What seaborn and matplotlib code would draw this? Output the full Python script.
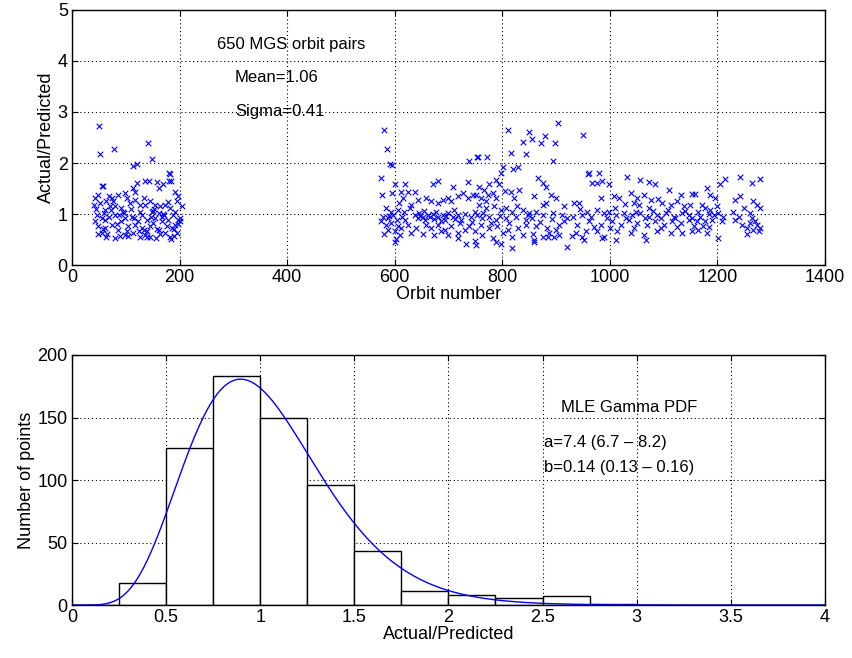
import math
import numpy as np
import pandas as pd
import matplotlib
matplotlib.use("Agg")
import matplotlib.pyplot as plt
import seaborn as sns

# ---------------- data ----------------
# Left cluster of orbit pairs
orbit_left = [51, 52, 78, 142, 148, 113, 121, 180, 181, 56,
              182, 136, 143, 159, 170, 185, 161, 120, 114, 118,
              58, 192, 198, 195, 204, 201, 49, 43, 52, 40,
              68, 74, 64, 86, 99, 102, 108, 117, 127, 136,
              154, 164, 173, 182, 80, 92, 61, 148, 161, 192,
              46, 55, 68, 80, 99, 111, 130, 139, 154, 167,
              179, 188, 49, 61, 74, 86, 105, 117, 130, 145,
              161, 176, 192, 201, 55, 64, 80, 99, 114, 127,
              145, 157, 173, 182, 195, 43, 92, 123, 151, 167,
              77, 133, 145, 72, 96, 124, 158, 186, 45, 110,
              135, 170, 88, 140, 197, 66, 150, 104, 189, 58,
              48, 62, 70, 84, 95, 102, 115, 126, 134, 146,
              152, 163, 172, 178, 190, 198, 60, 90, 140, 185]
ratio_left = [2.72, 2.17, 2.27, 2.39, 2.07, 1.95, 1.99, 1.80, 1.65, 1.55,
              1.78, 1.65, 1.65, 1.63, 1.59, 1.65, 1.51, 1.61, 1.51, 1.44,
              1.56, 1.43, 1.35, 1.25, 1.15, 0.92, 1.37, 1.31, 1.22, 1.18,
              1.35, 1.31, 1.25, 1.37, 1.41, 1.31, 1.22, 1.28, 1.18, 1.18,
              1.18, 1.15, 1.18, 1.12, 1.15, 1.12, 1.08, 1.05, 1.02, 1.05,
              0.99, 0.92, 0.95, 0.99, 0.92, 0.95, 0.99, 0.89, 0.92, 0.95,
              0.89, 0.99, 0.76, 0.73, 0.79, 0.69, 0.76, 0.79, 0.73, 0.76,
              0.69, 0.76, 0.79, 0.86, 0.63, 0.56, 0.53, 0.59, 0.63, 0.56,
              0.56, 0.53, 0.63, 0.56, 0.63, 0.86, 0.86, 0.86, 0.82, 0.86,
              1.25, 1.31, 1.25, 1.08, 1.02, 0.66, 0.70, 0.72, 1.10, 1.10,
              0.60, 1.00, 0.98, 0.66, 0.80, 0.62, 1.06, 0.58, 0.58, 0.70,
              0.62, 0.88, 1.15, 0.80, 1.05, 0.66, 0.92, 1.05, 0.68, 0.95,
              1.10, 0.62, 0.98, 1.24, 0.70, 0.88, 1.02, 0.58, 0.55, 0.52]

# Right cluster of orbit pairs
orbit_right = [580, 585, 591, 595, 738, 754, 811, 850, 856, 839,
               879, 873, 898, 904, 951, 817, 845, 755, 772, 895,
               802, 820, 830, 960,
               575, 576, 595, 601, 619, 671, 681, 708, 736, 612,
               625, 637, 615, 609, 643, 631, 659, 668, 681, 690,
               699, 705, 718, 727, 736, 746, 584, 594, 606, 618,
               637, 646, 653, 662, 671, 681, 690, 699, 708, 718,
               730, 742, 749, 643, 656, 674, 693, 712, 724, 575,
               584, 594, 606, 588, 600, 612, 625, 631, 640, 659,
               668, 681, 693, 705, 718, 730, 739, 749, 603, 600,
               733, 749, 752, 578, 588, 597, 674, 699, 718,
               797, 788, 794, 757, 767, 776, 751, 760, 773, 782,
               788, 816, 832, 822, 866, 875, 881, 890, 900, 881,
               875, 915, 934, 943, 757, 770, 785, 797, 807, 819,
               838, 850, 863, 754, 763, 776, 788, 807, 825, 844,
               856, 875, 894, 912, 931, 949, 760, 776, 791, 810,
               829, 844, 863, 884, 900, 915, 763, 782, 801, 819,
               838, 859, 875, 887, 897, 906, 937, 949, 788, 797,
               819, 859, 921,
               961, 980, 967, 977, 986, 998, 1032, 1057, 1073, 1085,
               1110, 1132, 1153, 983, 1008, 1017, 1039, 1051, 1063, 1076,
               1045, 1054, 1073, 1098, 1113, 1125, 1138, 1150, 958, 977,
               989, 998, 1011, 1026, 1042, 1057, 1073, 1088, 1104, 1119,
               1135, 1147, 961, 983, 1005, 1020, 1036, 1051, 1070, 1085,
               1101, 1116, 1132, 1147, 955, 977, 989, 1014, 1039, 1063,
               1088, 1113, 1135, 952, 986, 1011, 1067,
               1215, 1243, 1264, 1280, 1180, 1205, 1159, 1187, 1196, 1233,
               1243, 1267, 1273, 1280, 1171, 1177, 1165, 1187, 1199, 1202,
               1193, 1230, 1233, 1261, 1264, 1153, 1162, 1177, 1190, 1208,
               1156, 1165, 1174, 1180, 1153, 1246, 1255, 1261, 1267, 1273,
               1280, 1277, 1202,
               620, 628, 648, 655, 665, 677, 686, 695, 711, 721,
               744, 590, 604, 614, 580, 610, 652, 687,
               765, 780, 795, 812, 828, 848, 870, 892, 905, 920,
               940, 858, 885, 930, 945, 770, 805, 860,
               965, 995, 1010, 1030, 1048, 1065, 1080, 1095, 1108, 1122,
               1140, 970, 1000, 1045, 1095, 1125, 1028, 1090,
               1168, 1185, 1210, 1240, 1250, 1270, 1184, 1255]
ratio_right = [2.64, 2.27, 1.99, 1.97, 2.04, 2.11, 2.65, 2.60, 2.47, 2.42,
               2.53, 2.39, 2.39, 2.79, 2.55, 2.20, 2.18, 2.12, 2.11, 2.04,
               1.92, 1.89, 1.92, 1.79,
               1.71, 1.37, 1.41, 1.59, 1.59, 1.59, 1.65, 1.54, 1.63, 1.44,
               1.44, 1.43, 1.31, 1.22, 1.28, 1.18, 1.31, 1.25, 1.22, 1.28,
               1.31, 1.25, 1.35, 1.41, 1.31, 1.38, 1.12, 1.05, 1.08, 1.05,
               0.99, 1.02, 0.95, 0.99, 1.00, 0.95, 0.99, 1.02, 0.95, 0.99,
               1.00, 0.95, 1.05, 0.92, 0.89, 0.91, 0.89, 0.91, 0.89, 0.86,
               0.79, 0.82, 0.76, 0.69, 0.66, 0.73, 0.79, 0.63, 0.73, 0.79,
               0.73, 0.79, 0.69, 0.76, 0.63, 0.69, 0.76, 0.66, 0.52, 0.46,
               0.42, 0.48, 0.39, 0.95, 0.92, 0.99, 0.59, 0.59, 0.53,
               1.80, 1.67, 1.58, 1.54, 1.48, 1.58, 1.38, 1.31, 1.38, 1.41,
               1.31, 1.44, 1.48, 1.31, 1.71, 1.61, 1.54, 1.38, 1.31, 1.22,
               1.18, 1.15, 1.22, 1.22, 1.18, 1.12, 1.15, 1.08, 1.12, 1.05,
               1.08, 1.02, 1.05, 0.99, 0.92, 0.95, 0.89, 0.92, 0.95, 0.89,
               0.92, 0.99, 1.02, 0.99, 0.95, 0.99, 0.79, 0.73, 0.76, 0.69,
               0.73, 0.79, 0.76, 0.73, 0.69, 0.86, 0.59, 0.53, 0.63, 0.56,
               0.59, 0.50, 0.56, 0.63, 0.56, 0.59, 0.63, 0.56, 0.46, 0.42,
               0.33, 0.46, 0.35,
               1.80, 1.80, 1.61, 1.61, 1.65, 1.58, 1.73, 1.67, 1.63, 1.58,
               1.48, 1.38, 1.39, 1.31, 1.35, 1.31, 1.41, 1.31, 1.37, 1.28,
               1.22, 1.18, 1.12, 1.22, 1.18, 1.25, 1.15, 1.18, 1.05, 1.08,
               1.02, 1.05, 0.99, 1.02, 0.99, 1.02, 0.95, 0.99, 1.02, 0.95,
               1.02, 0.99, 0.86, 0.79, 0.86, 0.79, 0.89, 0.82, 0.79, 0.86,
               0.79, 0.86, 0.82, 0.89, 0.66, 0.66, 0.56, 0.66, 0.63, 0.59,
               0.66, 0.63, 0.63, 0.50, 0.53, 0.50, 0.50,
               1.69, 1.73, 1.61, 1.69, 1.51, 1.58, 1.39, 1.37, 1.31, 1.28,
               1.35, 1.25, 1.18, 1.12, 1.18, 1.12, 1.05, 1.08, 1.15, 1.02,
               0.99, 1.05, 0.89, 1.02, 0.92, 0.92, 0.86, 0.86, 0.89, 0.86,
               0.76, 0.69, 0.76, 0.63, 0.66, 0.79, 0.73, 0.82, 0.69, 0.79,
               0.73, 0.66, 0.53,
               0.88, 1.12, 0.96, 1.06, 0.94, 1.04, 0.86, 0.97, 1.08, 0.83,
               0.84, 0.97, 0.89, 0.94, 0.62, 0.60, 0.62, 0.66,
               1.02, 0.83, 0.97, 0.82, 1.15, 0.98, 0.85, 0.90, 0.78, 0.93,
               0.78, 0.62, 0.55, 0.58, 1.10, 1.25, 1.45, 1.35,
               0.95, 0.92, 1.12, 0.93, 1.05, 0.93, 1.06, 0.92, 1.08, 0.93,
               1.06, 0.74, 0.72, 0.72, 0.72, 0.74, 1.20, 1.30,
               0.95, 1.00, 0.95, 0.95, 1.12, 0.86, 0.75, 0.62]

# Histogram of Actual/Predicted (bin width 0.25)
bin_edges = [0, 0.25, 0.5, 0.75, 1.0, 1.25, 1.5, 1.75, 2.0, 2.25, 2.5, 2.75, 3.0,
             3.25, 3.5, 3.75, 4.0]
bin_counts = [0, 18, 126, 183, 150, 96, 43, 11, 8, 6, 7, 1, 0, 0, 0, 0]

# MLE gamma fit parameters shown on the chart
gamma_a = 7.4
gamma_b = 0.14
n_pairs = 650

# ---------------- plotting ----------------
sns.set_style("white")
plt.rcParams['font.family'] = ['Liberation Sans', 'DejaVu Sans']
plt.rcParams['text.color'] = 'black'
plt.rcParams['axes.labelcolor'] = 'black'

fig = plt.figure(figsize=(8.53, 6.58), dpi=100)
ax1 = fig.add_axes([0.0844, 0.597, 0.8826, 0.388])
ax2 = fig.add_axes([0.0844, 0.0805, 0.8826, 0.38])

scatter_df = pd.DataFrame({
    "orbit": orbit_left + orbit_right,
    "ratio": ratio_left + ratio_right,
})
sns.scatterplot(data=scatter_df, x="orbit", y="ratio", ax=ax1, marker="x",
                color="#0000ff", s=16, linewidth=0.8)

ax1.set_xlim(0, 1400)
ax1.set_ylim(0, 5)
ax1.set_xticks(range(0, 1401, 200))
ax1.set_yticks(range(0, 6))
ax1.set_xlabel("Orbit number", fontsize=13, labelpad=0)
ax1.set_ylabel("Actual/Predicted", fontsize=13, labelpad=2)
ax1.text(270, 4.33, "650 MGS orbit pairs", fontsize=12, va="center", color="black")
ax1.text(303, 3.67, "Mean=1.06", fontsize=12, va="center", color="black")
ax1.text(303, 3.0, "Sigma=0.41", fontsize=12, va="center", color="black")

# histogram
centers = [(bin_edges[i] + bin_edges[i + 1]) / 2 for i in range(len(bin_counts))]
hist_df = pd.DataFrame({"x": centers, "w": bin_counts})
sns.histplot(data=hist_df, x="x", weights="w", bins=bin_edges, ax=ax2,
             color="white", edgecolor="black", linewidth=1.0, alpha=1.0)

xs = np.linspace(0.0, 4.0, 400)
scale = n_pairs * 0.25
pdf = []
for v in xs:
    if v <= 0:
        pdf.append(0.0)
    else:
        lp = (gamma_a - 1) * math.log(v) - v / gamma_b - math.lgamma(gamma_a) - gamma_a * math.log(gamma_b)
        pdf.append(scale * math.exp(lp))
curve_df = pd.DataFrame({"x": xs, "y": pdf})
sns.lineplot(data=curve_df, x="x", y="y", ax=ax2, color="#0000ff", linewidth=1.0)

ax2.set_xlim(0, 4)
ax2.set_ylim(0, 200)
ax2.set_xticks([0, 0.5, 1, 1.5, 2, 2.5, 3, 3.5, 4])
ax2.set_xticklabels(["0", "0.5", "1", "1.5", "2", "2.5", "3", "3.5", "4"])
ax2.set_yticks(range(0, 201, 50))
ax2.set_xlabel("Actual/Predicted", fontsize=13, labelpad=0)
ax2.set_ylabel("Number of points", fontsize=13, labelpad=2)
ax2.text(2.6, 158, "MLE Gamma PDF", fontsize=12, va="center", color="black")
ax2.text(2.51, 130, "a=7.4 (6.7 \u2013 8.2)", fontsize=12, va="center", color="black")
ax2.text(2.51, 110, "b=0.14 (0.13 \u2013 0.16)", fontsize=12, va="center", color="black")

for ax in (ax1, ax2):
    ax.grid(True, linestyle=(0, (1, 2.5)), color="black", linewidth=0.8)
    ax.set_axisbelow(True)
    for sp in ax.spines.values():
        sp.set_visible(True)
        sp.set_color("black")
        sp.set_linewidth(1.0)
    ax.tick_params(direction="in", length=4, labelsize=13, colors="black",
                   top=True, right=True, bottom=True, left=True, pad=3)

fig.savefig("out.png", dpi=100)
